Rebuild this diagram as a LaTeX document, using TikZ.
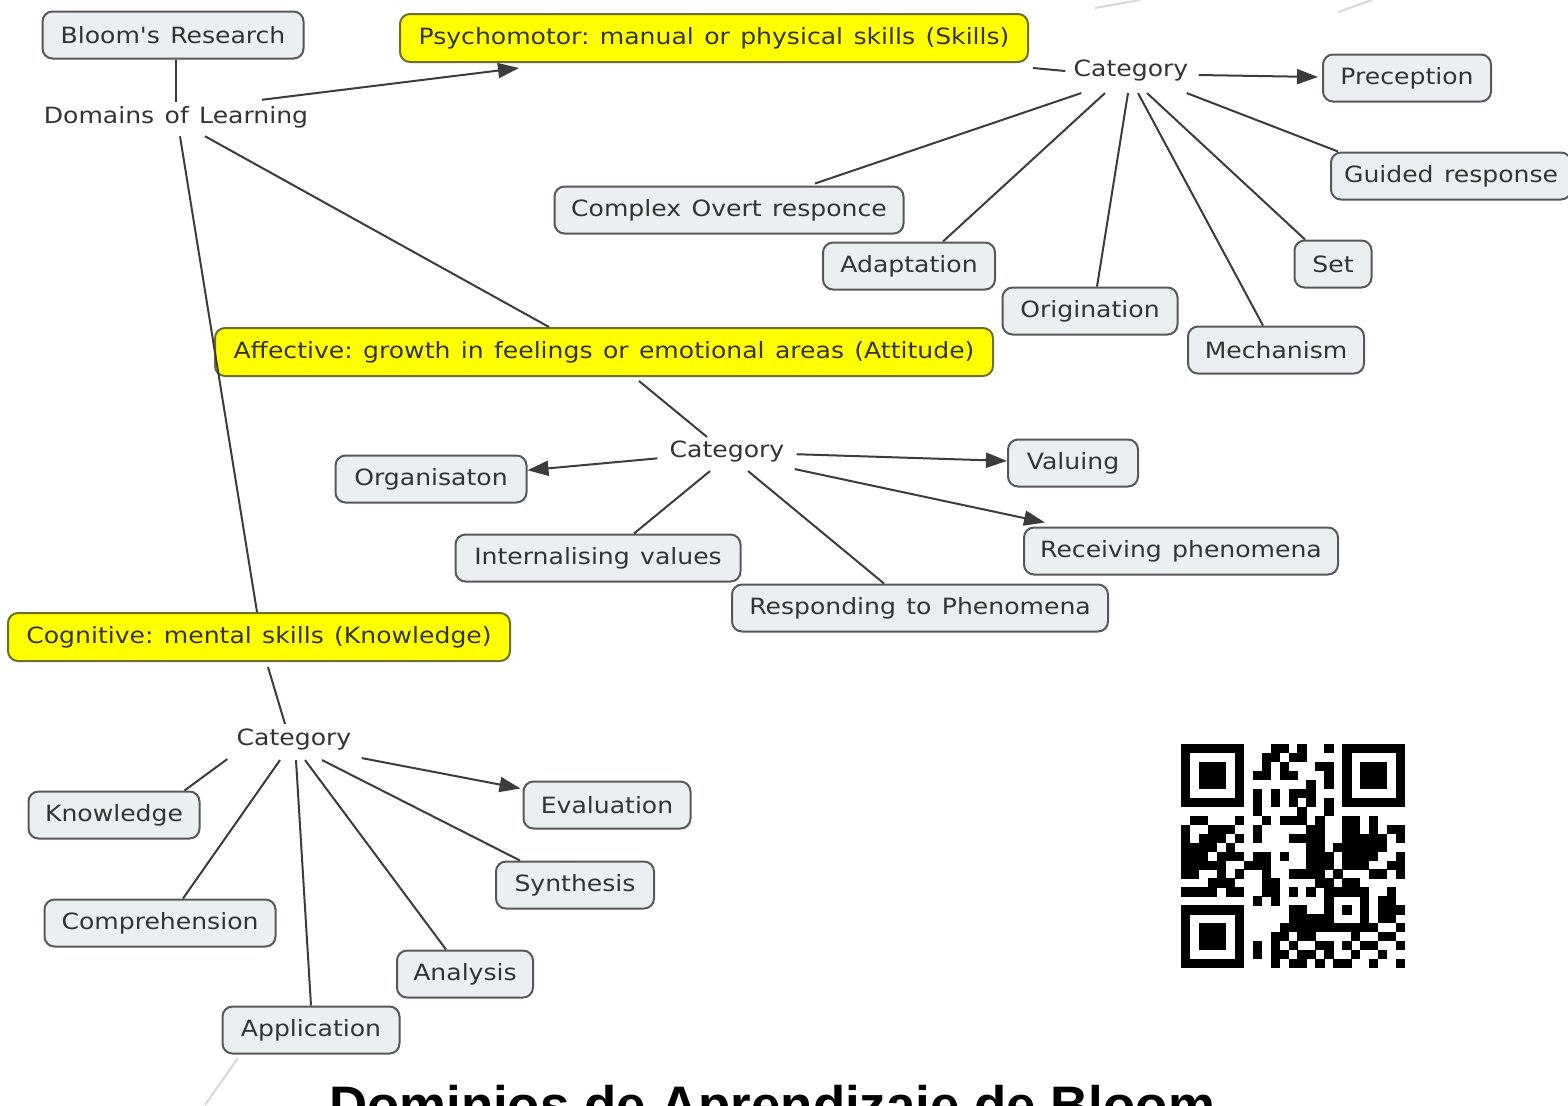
\documentclass[tikz,border=0pt]{standalone}
\usepackage{fontspec}
\setmainfont{DejaVu Sans}[FakeStretch=1.12, WordSpace=1.3, Ligatures=TeXOff]
\newfontfamily\titlefont{Liberation Sans}
\usetikzlibrary{arrows.meta,calc}
\definecolor{boxfill}{HTML}{EAF0F2}
\definecolor{boxline}{HTML}{585858}
\definecolor{linecol}{HTML}{3C3C3C}
\definecolor{txt}{HTML}{333333}
\definecolor{ylw}{HTML}{FFFF00}
\definecolor{ylwline}{HTML}{6E6E28}
\definecolor{faint}{HTML}{D8D8D8}
\frenchspacing
\begin{document}
\begin{tikzpicture}[x=0.5pt,y=-0.5pt,
  concept/.style={draw=boxline, line width=1pt, fill=boxfill, rounded corners=5pt,
    minimum height=23.5pt, inner xsep=0pt, inner ysep=2pt, text=txt,
    font=\fontsize{11.2}{13}\selectfont},
  domainbox/.style={concept, fill=ylw, draw=ylwline, minimum height=24pt},
  plain/.style={text=txt, inner sep=2pt, font=\fontsize{11.2}{13}\selectfont},
  link/.style={draw=linecol, line width=1pt},
  arr/.style={link, -{Triangle[length=10.5pt,width=7.5pt]}},
]
\useasboundingbox (0,0) rectangle (1568,1105);
\clip (0,0) rectangle (1568,1105);
\fill[white] (0,0) rectangle (1568,1105);

% faint background traces
\draw[faint, line width=1pt] (238,1058) -- (205,1105);
\draw[faint, line width=1pt] (1095,8) -- (1140,0);
\draw[faint, line width=1pt] (1338,12) -- (1372,0);

% ---------- nodes ----------
\node[concept, minimum width=130.5pt] (bloom) at (173,35) {Bloom's Research};
\node[plain] (domains) at (176,117) {Domains of Learning};
\node[domainbox, minimum width=314pt] (psycho) at (714,38) {Psychomotor: manual or physical skills (Skills)};
\node[plain] (catP) at (1131,71) {Category};
\node[concept, minimum width=84pt] (prec) at (1407,78) {Preception};
\node[concept, minimum width=120pt] (guided) at (1451,176) {Guided response};
\node[concept, minimum width=174.5pt] (complex) at (729,210) {Complex Overt responce};
\node[concept, minimum width=86pt] (adapt) at (909,266) {Adaptation};
\node[concept, minimum width=38.5pt] (set) at (1333,264) {Set};
\node[concept, minimum width=87.5pt] (orig) at (1090,311) {Origination};
\node[concept, minimum width=88pt] (mech) at (1276,350) {Mechanism};

\node[domainbox, minimum width=389pt] (affect) at (604,352) {Affective: growth in feelings or emotional areas (Attitude)};
\node[plain] (catA) at (727,452) {Category};
\node[concept, minimum width=95.5pt] (organ) at (431,479) {Organisaton};
\node[concept, minimum width=65pt] (valuing) at (1073,463) {Valuing};
\node[concept, minimum width=142.5pt] (internal) at (598,558) {Internalising values};
\node[concept, minimum width=157pt] (receiving) at (1181,551) {Receiving phenomena};
\node[concept, minimum width=188pt] (respond) at (920,608) {Responding to Phenomena};

\node[domainbox, minimum width=251pt] (cognitive) at (259,637) {Cognitive: mental skills (Knowledge)};
\node[plain] (catC) at (294,739) {Category};
\node[concept, minimum width=85.5pt] (knowledge) at (114,815) {Knowledge};
\node[concept, minimum width=83.5pt] (evaluation) at (607,805) {Evaluation};
\node[concept, minimum width=79pt] (synthesis) at (575,885) {Synthesis};
\node[concept, minimum width=115.5pt] (compre) at (160,923) {Comprehension};
\node[concept, minimum width=68pt] (analysis) at (465,974) {Analysis};
\node[concept, minimum width=88.5pt] (application) at (311,1030) {Application};

\node[font=\titlefont\bfseries\fontsize{26.4}{30}\selectfont, anchor=base, inner sep=0pt] (title) at (772,1123) {Dominios de Aprendizaje de Bloom};

% ---------- connectors ----------
\draw[link] (domains.north) -- (domains.north |- bloom.south);
\draw[arr] ($(domains.north)+(86,-2)$) -- ($(psycho.south west)+(120,5)$);
\draw[link] ($(domains.south)+(29,4)$) -- ($(affect.north west)+(335,0)$);
\draw[link] ($(domains.south)+(4,4)$) -- ($(cognitive.north west)+(250,0)$);

% psychomotor
\draw[link] ($(psycho.south east)+(4,5)$) -- ($(catP.west)+(-4,0)$);
\draw[arr] ($(catP.east)+(6,4)$) -- ($(prec.west)+(-4,-1)$);
\draw[link] ($(catP.south east)+(-6,7)$) -- ($(guided.north west)+(8,0)$);
\draw[link] ($(catP.south west)+(12,7)$) -- ($(complex.north)+(86,-2)$);
\draw[link] ($(catP.south)+(-26,7)$) -- ($(adapt.north)+(34,0)$);
\draw[link] ($(catP.south)+(-3,7)$) -- ($(orig.north)+(7,0)$);
\draw[link] ($(catP.south)+(7,7)$) -- ($(mech.north)+(-13,0)$);
\draw[link] ($(catP.south)+(16,7)$) -- ($(set.north)+(-28,0)$);

% affective
\draw[link] ($(affect.south west)+(425,4)$) -- ($(catA.north)+(-20,0)$);
\draw[arr, shorten <=4pt] (catA) -- (organ);
\draw[arr, shorten <=4pt] (catA) -- (valuing);
\draw[arr] ($(catA.south east)+(6,2)$) -- ($(receiving.north west)+(22,-4)$);
\draw[link] ($(catA.south)+(-17,4)$) -- ($(internal.north)+(36,0)$);
\draw[link] ($(catA.south)+(21,4)$) -- ($(respond.north)+(-36,0)$);

% cognitive
\draw[link] ($(cognitive.south)+(9,5)$) -- ($(catC.north)+(-9,0)$);
\draw[link] ($(catC.south west)+(-5,5)$) -- ($(knowledge.north east)+(-16,0)$);
\draw[link] ($(catC.south)+(-14,6)$) -- ($(compre.north)+(23,0)$);
\draw[link] ($(catC.south)+(2,6)$) -- (application.north);
\draw[link] ($(catC.south)+(11,6)$) -- ($(analysis.north)+(-19,0)$);
\draw[link] ($(catC.south)+(28,6)$) -- ($(synthesis.north west)+(25,0)$);
\draw[arr] ($(catC.south east)+(6,4)$) -- ($(evaluation.north west)+(-2,8)$);

% ---------- QR code ----------
\begin{scope}[shift={(590.5pt,-372pt)}, x=4.48pt, y=-4.48pt]
\foreach \r/\cs in {
 0/{0,1,2,3,4,5,6,10,11,13,16,18,19,20,21,22,23,24},
 1/{0,6,9,10,12,13,18,24},
 2/{0,2,3,4,6,9,11,15,16,18,20,21,22,24},
 3/{0,2,3,4,6,8,9,11,12,16,18,20,21,22,24},
 4/{0,2,3,4,6,14,16,18,20,21,22,24},
 5/{0,6,8,10,12,13,14,18,24},
 6/{0,1,2,3,4,5,6,8,10,12,14,16,18,19,20,21,22,23,24},
 7/{8,13,16},
 8/{1,2,6,9,11,12,13,15,18,19,21},
 9/{0,3,4,5,8,14,15,18,19,21,23,24},
 10/{0,2,3,4,6,8,12,13,14,15,18,19,20,21,22,24},
 11/{0,1,2,3,5,14,15,17,18,19,20,21,22},
 12/{0,1,2,4,5,6,8,9,11,14,15,16,18,19,20,21,24},
 13/{0,1,2,3,4,7,8,9,14,15,16,18,19,20,23,24},
 14/{0,1,4,6,9,12,13,14,15,17,21,22,24},
 15/{3,4,5,9,10,15,16,18,19},
 16/{0,1,2,3,5,6,9,10,12,14,16,17,18,19,20,23},
 17/{8,10,16,20,22,23},
 18/{0,1,2,3,4,5,6,12,13,16,18,20,22,23,24},
 19/{0,6,12,13,14,15,16,20,22,23},
 20/{0,2,3,4,6,11,12,13,14,15,16,17,18,19,20,21,24},
 21/{0,2,3,4,6,10,11,13,14,19,22,23},
 22/{0,2,3,4,6,8,10,12,15,16,18,20,21,24},
 23/{0,6,8,10,11,13,14,16,19,22},
 24/{0,1,2,3,4,5,6,10,12,13,15,17,18,21,24}}{
  \foreach \c in \cs { \fill[black] (\c,\r) rectangle ++(1.03,1.03); }
}
\end{scope}
\end{tikzpicture}
\end{document}
